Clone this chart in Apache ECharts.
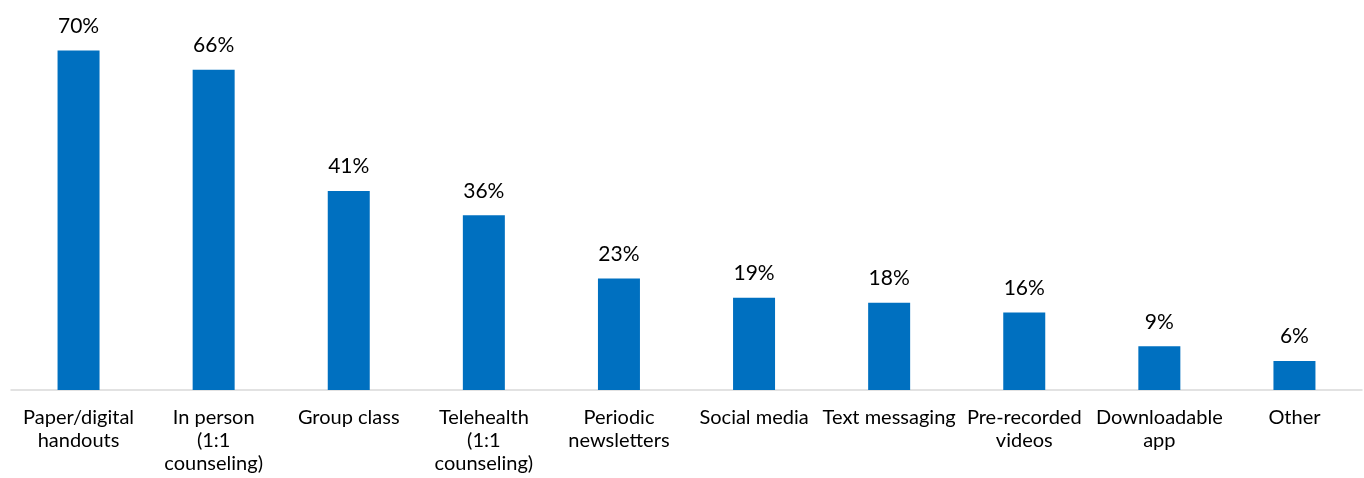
<!DOCTYPE html>
<html>
<head>
<meta charset="utf-8">
<script src="https://cdn.jsdelivr.net/npm/echarts@6/dist/echarts.min.js"></script>
<style>
  html, body { margin: 0; padding: 0; background: #ffffff; }
  #chart { width: 1364px; height: 478px; }
</style>
</head>
<body>
<div id="chart"></div>
<script>
// Delivery methods and the share of respondents using each one (%)
const categories = [
  'Paper/digital\nhandouts',
  'In person\n(1:1\ncounseling)',
  'Group class',
  'Telehealth\n(1:1\ncounseling)',
  'Periodic\nnewsletters',
  'Social media',
  'Text messaging',
  'Pre-recorded\nvideos',
  'Downloadable\napp',
  'Other'
];
const shares = [70, 66, 41, 36, 23, 19, 18, 16, 9, 6];

const chart = echarts.init(document.getElementById('chart'), null, { renderer: 'canvas' });

chart.setOption({
  animation: false,
  backgroundColor: '#ffffff',
  textStyle: { fontFamily: 'Lato' },
  grid: { left: 11, right: 2, top: 48, bottom: 88, containLabel: false },
  xAxis: {
    type: 'category',
    data: categories,
    axisLine: { show: true, lineStyle: { color: '#d9d9d9', width: 1.5 } },
    axisTick: { show: false },
    axisLabel: {
      interval: 0,
      margin: 16,
      color: '#000000',
      fontFamily: 'Lato',
      fontSize: 20,
      lineHeight: 23
    }
  },
  yAxis: {
    type: 'value',
    min: 0,
    max: 70.5,
    show: false,
    splitLine: { show: false }
  },
  series: [{
    type: 'bar',
    data: shares,
    barWidth: 42,
    itemStyle: { color: '#0070C0' },
    label: {
      show: true,
      position: 'top',
      distance: 14,
      color: '#000000',
      fontFamily: 'Lato',
      fontSize: 21,
      formatter: p => p.value + '%'
    }
  }]
});
</script>
</body>
</html>
